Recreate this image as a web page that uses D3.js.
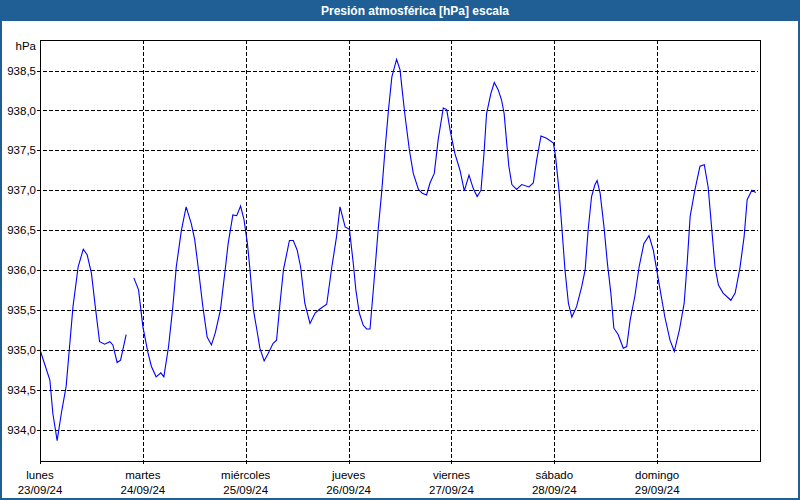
<!DOCTYPE html>
<meta charset="utf-8">
<style>
    body { margin: 0; background: #fff; }
    svg { display: block; }
    text { font-family: "Liberation Sans", Arial, sans-serif; font-size: 11.5px; fill: #000; }
    .title { font-weight: bold; fill: #fff; font-size: 12px; }
    .grid line { stroke: #000; stroke-dasharray: 4,2; shape-rendering: crispEdges; }
    .frame { fill: none; stroke: #000; shape-rendering: crispEdges; }
    path.serie { fill: none; stroke: #0000ff; stroke-width: 1.1; }
</style>
<body>
<script src="https://d3js.org/d3.v7.min.js"></script>
<script>

// horas desde 23/09/24 00:00 y presión (hPa); null = sin datos
var horas = [0, 2.3, 3.0, 4.0, 5.0, 6.1, 6.9, 7.7, 8.9, 10.1, 11.0, 12.0, 12.9, 13.9, 15.1, 16.3, 17.0, 18.0, 18.8, 20.1,
    21.0,
    21.9, 23.0, 24.0, 25.2, 26.0, 27.1, 28.2, 28.9, 30.0, 31.0, 31.8, 33.0, 34.1, 35.3, 36.1, 36.9, 38.0, 39.0, 40.0, 40.9,
    42.1, 43.2, 43.9, 45.0, 45.9, 46.8, 47.6, 48.4, 49.0, 49.8, 50.6, 51.3, 52.3, 53.2, 54.4, 55.2, 56.0, 56.8, 58.2, 59.1,
    60.0, 60.8, 61.8, 63.0, 64.2, 65.3, 66.9, 68.1, 69.2, 70.0, 71.2, 72.2, 73.1, 73.7, 74.5, 75.4, 76.2, 77.0, 77.9, 78.9,
    79.7, 80.5, 81.3, 82.1, 83.2, 84.0, 84.6, 85.2, 86.2, 87.1, 88.3, 89.2, 90.2, 91.0, 92.0, 92.9, 94.1, 94.9, 95.7, 96.8,
    98.0, 99.0, 100.1, 101.1, 102.0, 102.9, 103.6, 104.2, 105.2, 106.0, 106.9, 107.7, 108.3, 108.9, 109.4, 110.1, 111.2,
    112.4, 114.1, 115.1, 115.9, 116.9, 118.2, 119.8, 120.3, 121.1, 121.7, 122.5, 123.3, 124.1, 125.2, 126.4, 127.2, 127.9,
    128.7, 129.5, 130.0, 130.7, 131.6, 132.4, 133.2, 133.9, 134.9, 136.1, 136.9, 137.7, 138.8, 139.8, 140.9, 142.1, 143.1,
    143.9, 144.7, 145.8, 147.0, 148.0, 149.2, 150.3, 151.0, 151.7, 152.8, 154.0, 155.0, 155.9, 156.7, 157.5, 158.3, 159.4,
    161.2, 162.2, 163.3, 164.3, 165.0, 166.1, 167.0];

var presion = [935.00, 934.62, 934.20, 933.86, 934.21, 934.54, 935.04, 935.54, 936.04, 936.26, 936.19, 935.96, 935.54, 935.10, 935.07, 935.10, 935.06, 934.84, 934.87, 935.19,
    null,
    935.90, 935.75, 935.29, 934.96, 934.79, 934.66, 934.71, 934.66, 935.04, 935.54, 936.04, 936.50, 936.79, 936.58, 936.38, 936.04, 935.54, 935.16, 935.06, 935.21,
    935.50, 936.00, 936.33, 936.69, 936.68, 936.80, 936.63, 936.33, 936.00, 935.50, 935.25, 935.02, 934.86, 934.95, 935.08, 935.12, 935.58, 936.00, 936.37, 936.37,
    936.25, 936.04, 935.58, 935.33, 935.46, 935.51, 935.57, 936.04, 936.42, 936.79, 936.54, 936.51, 936.08, 935.75, 935.46, 935.31, 935.26, 935.26, 935.83, 936.50,
    936.96, 937.50, 938.00, 938.42, 938.64, 938.51, 938.21, 937.92, 937.50, 937.21, 937.01, 936.96, 936.94, 937.09, 937.21, 937.63, 938.03, 938.01, 937.75, 937.46,
    937.25, 936.99, 937.19, 937.02, 936.92, 937.00, 937.46, 937.96, 938.21, 938.35, 938.26, 938.13, 937.96, 937.59, 937.30, 937.07, 937.01,
    937.07, 937.04, 937.09, 937.38, 937.68, 937.65, 937.59, 937.42, 937.00, 936.58, 936.00, 935.58, 935.41, 935.54, 935.79, 936.00, 936.50,
    936.92, 937.07, 937.12, 936.96, 936.54, 936.08, 935.71, 935.27, 935.19, 935.02, 935.04, 935.37, 935.67, 936.04, 936.33, 936.43, 936.25,
    936.00, 935.75, 935.41, 935.12, 934.98, 935.25, 935.58, 936.08, 936.67, 937.00, 937.30, 937.32, 937.04, 936.54, 936.04, 935.81, 935.71,
    935.62, 935.71, 936.02, 936.42, 936.88, 937.00, 936.97];

var diasNombre = ["lunes", "martes", "miércoles", "jueves", "viernes", "sábado", "domingo"];
var diasFecha = ["23/09/24", "24/09/24", "25/09/24", "26/09/24", "27/09/24", "28/09/24", "29/09/24"];
var yTicks = [934.0, 934.5, 935.0, 935.5, 936.0, 936.5, 937.0, 937.5, 938.0, 938.5];

var W = 800, H = 500;
var mIzq = 40, mDer = 760, mSup = 40, mInf = 461;

var svg = d3.select("body").append("svg")
    .attr("width", W)
    .attr("height", H);

// marco azul y barra de título
svg.append("rect").attr("x", 1).attr("y", 1).attr("width", W - 2).attr("height", H - 2)
    .attr("fill", "#fff").attr("stroke", "#1f5f96").attr("stroke-width", 2);
svg.append("rect").attr("x", 0).attr("y", 0).attr("width", W).attr("height", 21)
    .attr("fill", "#1f5f96");
svg.append("text").attr("class", "title")
    .attr("x", 415).attr("y", 15)
    .attr("text-anchor", "middle")
    .text("Presión atmosférica [hPa] escala");

var x = d3.scaleLinear().domain([0, 168]).range([mIzq, mDer]);
var y = d3.scaleLinear().domain([934, 938.5]).range([429.5, 70.5]);

var fmt = function(d) { return d3.format(".1f")(d).replace(".", ","); };

// eje y + rejilla horizontal
var gy = svg.append("g")
    .attr("class", "grid")
    .attr("transform", "translate(" + mIzq + ",0)")
    .call(d3.axisLeft(y).tickValues(yTicks).tickSizeInner(-(mDer - mIzq - 2)).tickSizeOuter(0).tickPadding(4).tickFormat(fmt));
gy.select(".domain").remove();
gy.selectAll(".tick line").attr("x1", -3);
gy.selectAll(".tick text").attr("x", -4).style("font-size", "11.5px").style("font-family", "Liberation Sans, Arial, sans-serif");

svg.append("text")
    .attr("x", 36).attr("y", 50)
    .attr("text-anchor", "end")
    .text("hPa");

// eje x + rejilla vertical
var xTicks = d3.range(0, 7).map(function(i) { return i * 24; });
var gx = svg.append("g")
    .attr("class", "grid")
    .attr("transform", "translate(0," + mInf + ")")
    .call(d3.axisBottom(x).tickValues(xTicks).tickSizeInner(-(mInf - mSup)).tickSizeOuter(0).tickFormat(""));
gx.select(".domain").remove();
gx.selectAll(".tick line").attr("y1", 3);

var etiquetas = svg.append("g").selectAll("g")
    .data(xTicks)
    .enter().append("g")
    .attr("transform", function(d) { return "translate(" + x(d) + ",0)"; });
etiquetas.append("text")
    .attr("y", 479)
    .attr("text-anchor", "middle")
    .text(function(d, i) { return diasNombre[i]; });
etiquetas.append("text")
    .attr("y", 494)
    .attr("text-anchor", "middle")
    .text(function(d, i) { return diasFecha[i]; });

// serie
var datos = horas.map(function(h, i) { return { h: h, v: presion[i] }; });
var linea = d3.line()
    .defined(function(d) { return d.v != null; })
    .x(function(d) { return x(d.h); })
    .y(function(d) { return y(d.v); });

svg.append("path")
    .datum(datos)
    .attr("class", "serie")
    .attr("d", linea);

// marco del gráfico
svg.append("rect").attr("class", "frame")
    .attr("x", mIzq).attr("y", mSup)
    .attr("width", mDer - mIzq).attr("height", mInf - mSup);
svg.append("line").attr("class", "frame")
    .attr("x1", mIzq).attr("x2", mIzq).attr("y1", mInf).attr("y2", mInf + 3);

</script>
